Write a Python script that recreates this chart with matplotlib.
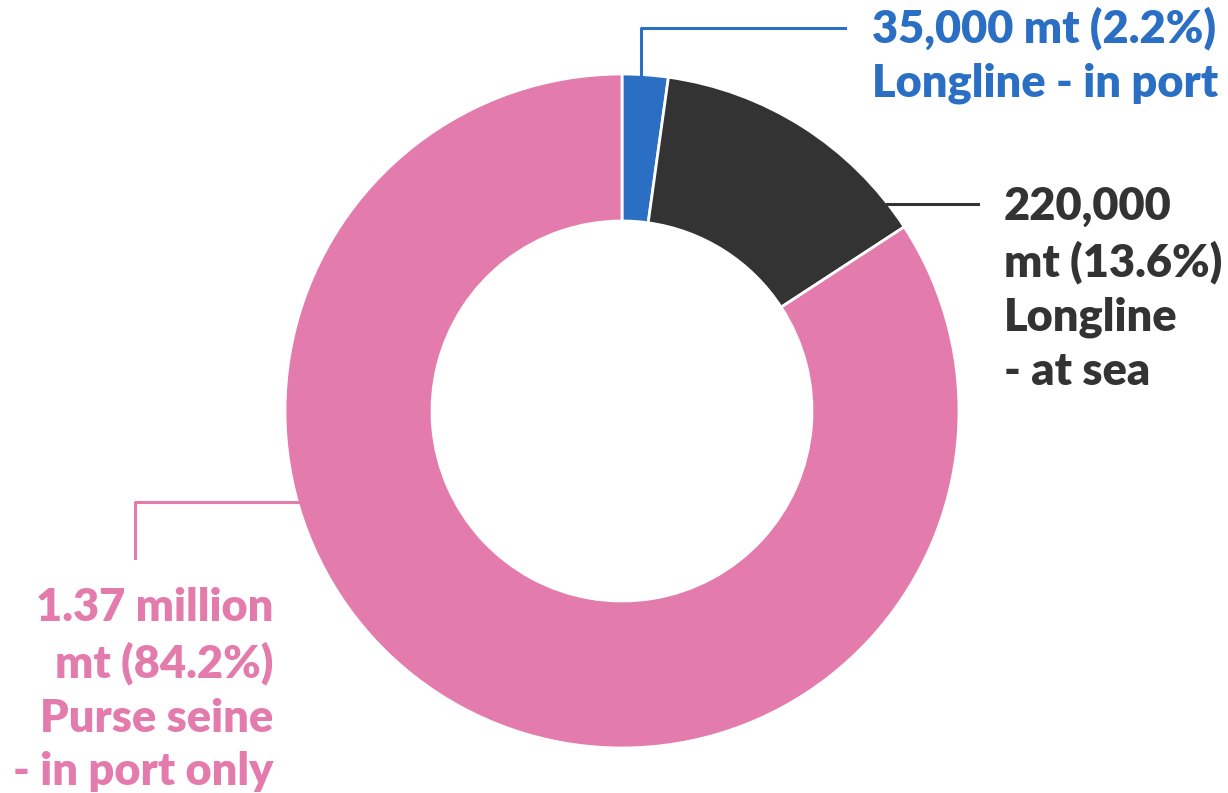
import matplotlib
matplotlib.use("Agg")
import matplotlib.pyplot as plt

############################################################
# data
labels = ["Longline - in port", "Longline - at sea", "Purse seine - in port only"]
amounts = ["35,000 mt", "220,000 mt", "1.37 million mt"]
shares = [2.2, 13.6, 84.2]
colors = ["#2b6fc4", "#333333", "#e37cac"]

############################################################
W, H = 1228, 793
plt.rcParams['font.family'] = ['Lato', 'DejaVu Sans']

fig = plt.figure(figsize=(W / 100, H / 100), dpi=100)
ax = fig.add_axes([0, 0, 1, 1])

# donut, center/radius in pixels (y flipped)
cx, cy, r_out, r_in = 622, H - 411, 337, 190
ax.pie(shares, colors=colors, startangle=90, counterclock=False,
       center=(cx, cy), radius=r_out, frame=True,
       wedgeprops=dict(width=r_out - r_in, edgecolor='white', linewidth=2))
ax.set_xlim(0, W)
ax.set_ylim(0, H)
ax.set_aspect('equal')
ax.axis('off')

def py(y):
    return H - y

# leader lines
ax.plot([641, 641, 845], [py(75), py(28), py(28)], color=colors[0], lw=2.2)
ax.plot([887, 978], [py(204), py(204)], color=colors[1], lw=2.2)
ax.plot([298, 135, 135], [py(502), py(502), py(558)], color=colors[2], lw=2.2)

fs = 32.5
kw = dict(fontsize=fs, fontweight='heavy', linespacing=1.37, va='top')

ax.text(872, py(6), f"{amounts[0]} ({shares[0]}%)\n{labels[0]}",
        color=colors[0], ha='left', **kw)
ax.text(1004, py(186), "220,000\nmt (13.6%)\nLongline\n- at sea",
        color=colors[1], ha='left', **kw)
ax.text(273, py(587), "1.37 million\nmt (84.2%)\nPurse seine\n- in port only",
        color=colors[2], ha='right', **kw)

fig.savefig("out.png", dpi=100)
